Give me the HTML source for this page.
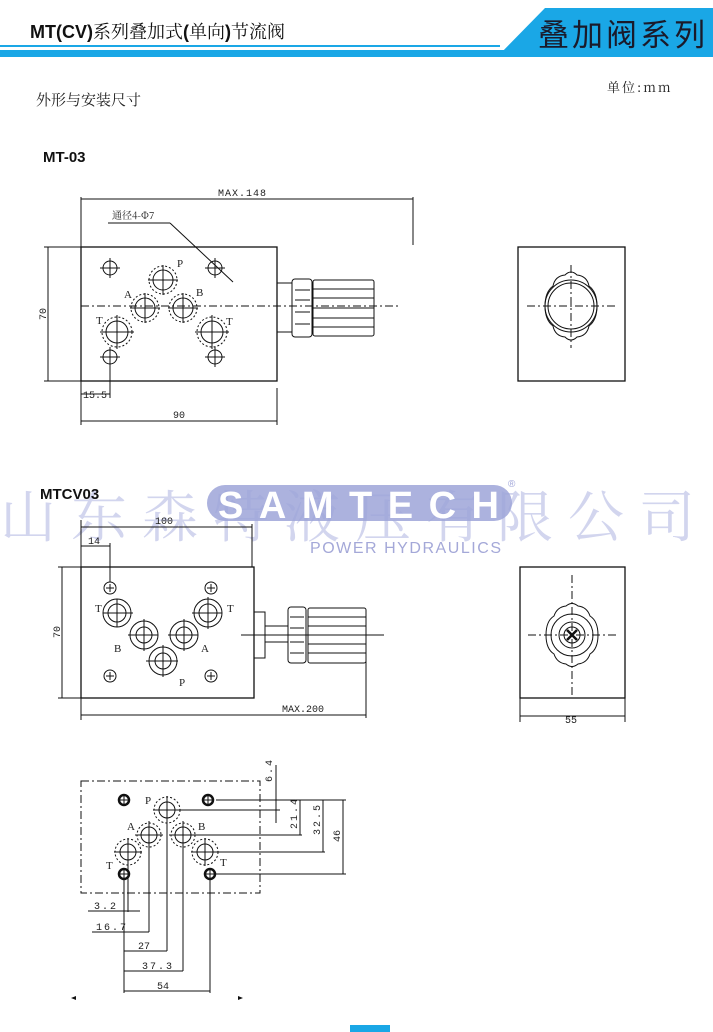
<!DOCTYPE html>
<html><head><meta charset="utf-8">
<style>
html,body{margin:0;padding:0;background:#fff;}
svg{display:block;}
.s{font-family:"Liberation Serif","Noto Serif CJK SC",serif;}
.d{font-family:"Liberation Mono","Noto Sans CJK SC",monospace;font-size:10px;fill:#222;}
</style></head><body>
<svg width="713" height="1032" viewBox="0 0 713 1032" xmlns="http://www.w3.org/2000/svg">
<!-- header -->
<text x="30" y="38" font-family="Liberation Sans,Noto Sans CJK SC,sans-serif" font-size="18" fill="#111"><tspan font-weight="bold">MT(CV)</tspan><tspan font-family="Noto Serif CJK SC,serif">系列叠加式</tspan><tspan font-weight="bold">(</tspan><tspan font-family="Noto Serif CJK SC,serif">单向</tspan><tspan font-weight="bold">)</tspan><tspan font-family="Noto Serif CJK SC,serif">节流阀</tspan></text>
<rect x="0" y="45" width="500" height="2" fill="#1aa7e6"/>
<rect x="0" y="50" width="713" height="7" fill="#1aa7e6"/>
<polygon points="545,8 713,8 713,57 497,57" fill="#1aa7e6"/>
<text x="538" y="46" font-family="Noto Sans CJK SC,sans-serif" font-size="31" fill="#1a1a2a" textLength="167">叠加阀系列</text>
<text x="607" y="92" font-size="13" fill="#222" font-family="Noto Serif CJK SC,serif" letter-spacing="2">单位:mm</text>
<text x="36" y="105" font-family="Noto Serif CJK SC,serif" font-size="15" fill="#222">外形与安装尺寸</text>
<text x="43" y="162" font-family="Liberation Sans,sans-serif" font-weight="bold" font-size="15" fill="#111">MT-03</text>

<!-- watermark -->
<text x="0" y="537" font-family="Noto Serif CJK SC,serif" font-size="56" fill="#d2d5ee" letter-spacing="15">山东森特液压有限公司</text>
<rect x="207" y="485" width="305" height="36" rx="18" fill="#9ea4d8" opacity="0.85"/>
<text x="218" y="518" font-family="Liberation Sans,sans-serif" font-weight="bold" font-size="38" fill="#fff" letter-spacing="4" textLength="285">SAMTECH</text>
<text x="508" y="487" font-family="Liberation Sans,sans-serif" font-size="10" fill="#9ea4d8">®</text>
<text x="310" y="553" font-family="Liberation Sans,sans-serif" font-size="16" fill="#a4a8d8" letter-spacing="1" textLength="192">POWER HYDRAULICS</text>
<text x="40" y="499" font-family="Liberation Sans,sans-serif" font-weight="bold" font-size="15" fill="#111">MTCV03</text>

<g stroke="#111" fill="none" stroke-width="1">
<!-- ===== MT-03 ===== -->
<rect x="81" y="247" width="196" height="134" stroke-width="1.3"/>
<line x1="81" y1="197" x2="81" y2="247"/>
<line x1="81" y1="199" x2="413" y2="199"/>
<line x1="413" y1="197" x2="413" y2="245"/>
<line x1="44" y1="247" x2="81" y2="247"/>
<line x1="44" y1="381" x2="81" y2="381"/>
<line x1="48" y1="247" x2="48" y2="381"/>
<line x1="108" y1="223" x2="170" y2="223"/>
<line x1="170" y1="223" x2="233" y2="282"/>
<line x1="81" y1="306" x2="400" y2="306" stroke-dasharray="8,3,2,3"/>
<g>
<circle cx="110" cy="268" r="7"/><line x1="100" y1="268" x2="120" y2="268"/><line x1="110" y1="258" x2="110" y2="278"/>
<circle cx="215" cy="268" r="7"/><line x1="205" y1="268" x2="225" y2="268"/><line x1="215" y1="258" x2="215" y2="278"/>
<circle cx="110" cy="357" r="7"/><line x1="100" y1="357" x2="120" y2="357"/><line x1="110" y1="347" x2="110" y2="367"/>
<circle cx="215" cy="357" r="7"/><line x1="205" y1="357" x2="225" y2="357"/><line x1="215" y1="347" x2="215" y2="367"/>
</g>
<g>
<circle cx="163" cy="280" r="14" stroke-dasharray="2,2"/><circle cx="163" cy="280" r="10"/><line x1="148" y1="280" x2="178" y2="280"/><line x1="163" y1="265" x2="163" y2="295"/>
<circle cx="145" cy="308" r="14" stroke-dasharray="2,2"/><circle cx="145" cy="308" r="10"/><line x1="130" y1="308" x2="160" y2="308"/><line x1="145" y1="293" x2="145" y2="323"/>
<circle cx="183" cy="308" r="14" stroke-dasharray="2,2"/><circle cx="183" cy="308" r="10"/><line x1="168" y1="308" x2="198" y2="308"/><line x1="183" y1="293" x2="183" y2="323"/>
<circle cx="117" cy="332" r="15" stroke-dasharray="2,2"/><circle cx="117" cy="332" r="11"/><line x1="100" y1="332" x2="134" y2="332"/><line x1="117" y1="315" x2="117" y2="349"/>
<circle cx="212" cy="332" r="15" stroke-dasharray="2,2"/><circle cx="212" cy="332" r="11"/><line x1="195" y1="332" x2="229" y2="332"/><line x1="212" y1="315" x2="212" y2="349"/>
</g>
<rect x="277" y="283" width="15" height="49"/>
<rect x="292" y="279" width="20" height="58" rx="3"/>
<line x1="295" y1="290" x2="310" y2="290"/><line x1="295" y1="300" x2="310" y2="300"/><line x1="295" y1="312" x2="310" y2="312"/><line x1="295" y1="324" x2="310" y2="324"/>
<rect x="313" y="280" width="61" height="56" rx="2"/>
<line x1="313" y1="289" x2="374" y2="289"/><line x1="313" y1="298" x2="374" y2="298"/><line x1="313" y1="308" x2="374" y2="308"/><line x1="313" y1="318" x2="374" y2="318"/><line x1="313" y1="327" x2="374" y2="327"/>
<line x1="110" y1="365" x2="110" y2="398"/>
<line x1="81" y1="381" x2="81" y2="425"/>
<line x1="81" y1="394" x2="110" y2="394"/>
<line x1="277" y1="388" x2="277" y2="425"/>
<line x1="81" y1="421" x2="277" y2="421"/>
<rect x="518" y="247" width="107" height="134" stroke-width="1.3"/>
<circle cx="571" cy="306" r="23"/><circle cx="571" cy="306" r="26"/>
<path d="M545,306 q0,-14 8,-20 q2,-10 12,-11 q6,-6 12,0 q10,1 12,11 q8,6 8,20 q0,14 -8,20 q-2,10 -12,11 q-6,6 -12,0 q-10,-1 -12,-11 q-8,-6 -8,-20z"/>
<line x1="527" y1="306" x2="615" y2="306" stroke-dasharray="8,3,2,3"/>
<line x1="571" y1="265" x2="571" y2="348" stroke-dasharray="8,3,2,3"/>

<!-- ===== MTCV03 ===== -->
<rect x="81" y="567" width="173" height="131" stroke-width="1.3"/>
<line x1="81" y1="520" x2="81" y2="567"/>
<line x1="81" y1="527" x2="252" y2="527"/>
<line x1="252" y1="524" x2="252" y2="567"/>
<line x1="81" y1="546" x2="110" y2="546"/>
<line x1="110" y1="543" x2="110" y2="582"/>
<line x1="58" y1="567" x2="81" y2="567"/>
<line x1="58" y1="698" x2="81" y2="698"/>
<line x1="62" y1="567" x2="62" y2="698"/>
<line x1="81" y1="698" x2="81" y2="720"/>
<line x1="81" y1="715" x2="366" y2="715"/>
<line x1="366" y1="658" x2="366" y2="718"/>
<g>
<circle cx="110" cy="588" r="6"/><line x1="106" y1="588" x2="114" y2="588"/><line x1="110" y1="584" x2="110" y2="592"/>
<circle cx="211" cy="588" r="6"/><line x1="207" y1="588" x2="215" y2="588"/><line x1="211" y1="584" x2="211" y2="592"/>
<circle cx="110" cy="676" r="6"/><line x1="106" y1="676" x2="114" y2="676"/><line x1="110" y1="672" x2="110" y2="680"/>
<circle cx="211" cy="676" r="6"/><line x1="207" y1="676" x2="215" y2="676"/><line x1="211" y1="672" x2="211" y2="680"/>
</g>
<g>
<circle cx="117" cy="613" r="14"/><circle cx="117" cy="613" r="9"/><line x1="103" y1="613" x2="133" y2="613"/><line x1="117" y1="599" x2="117" y2="627"/>
<circle cx="208" cy="613" r="14"/><circle cx="208" cy="613" r="9"/><line x1="192" y1="613" x2="222" y2="613"/><line x1="208" y1="597" x2="208" y2="629"/>
<circle cx="144" cy="635" r="14"/><circle cx="144" cy="635" r="8"/><line x1="128" y1="635" x2="158" y2="635"/><line x1="144" y1="619" x2="144" y2="651"/>
<circle cx="184" cy="635" r="14"/><circle cx="184" cy="635" r="8"/><line x1="168" y1="635" x2="198" y2="635"/><line x1="184" y1="619" x2="184" y2="651"/>
<circle cx="163" cy="661" r="14"/><circle cx="163" cy="661" r="8"/><line x1="146" y1="661" x2="178" y2="661"/><line x1="163" y1="645" x2="163" y2="677"/>
</g>
<rect x="254" y="612" width="11" height="46"/>
<line x1="265" y1="626" x2="288" y2="626"/><line x1="265" y1="642" x2="288" y2="642"/>
<rect x="288" y="607" width="18" height="56" rx="3"/>
<line x1="290" y1="617" x2="304" y2="617"/><line x1="290" y1="628" x2="304" y2="628"/><line x1="290" y1="642" x2="304" y2="642"/><line x1="290" y1="653" x2="304" y2="653"/>
<rect x="308" y="608" width="58" height="55" rx="2"/>
<line x1="308" y1="617" x2="366" y2="617"/><line x1="308" y1="626" x2="366" y2="626"/><line x1="308" y1="644" x2="366" y2="644"/><line x1="308" y1="653" x2="366" y2="653"/>
<line x1="241" y1="635" x2="384" y2="635"/>
<rect x="520" y="567" width="105" height="131" stroke-width="1.3"/>
<path d="M546,635 q0,-14 8,-19 q3,-9 12,-10 q6,-5 12,0 q9,1 12,10 q8,5 8,19 q0,14 -8,19 q-3,9 -12,10 q-6,5 -12,0 q-9,-1 -12,-10 q-8,-5 -8,-19z"/>
<circle cx="572" cy="635" r="21"/><circle cx="572" cy="635" r="13"/><circle cx="572" cy="635" r="8"/>
<path d="M567,630 l10,10 M577,630 l-10,10" stroke-width="2.5"/>
<line x1="528" y1="635" x2="618" y2="635" stroke-dasharray="8,3,2,3"/>
<line x1="572" y1="575" x2="572" y2="695" stroke-dasharray="8,3,2,3"/>
<line x1="520" y1="698" x2="520" y2="722"/><line x1="625" y1="698" x2="625" y2="722"/>
<line x1="520" y1="716" x2="625" y2="716"/>

<!-- ===== bottom pattern ===== -->
<rect x="81" y="781" width="179" height="112" stroke-dasharray="8,3,2,3"/>
<g stroke-width="2.5"><circle cx="124" cy="800" r="5"/><circle cx="208" cy="800" r="5"/><circle cx="124" cy="874" r="5"/><circle cx="210" cy="874" r="5"/></g>
<g>
<line x1="120" y1="800" x2="128" y2="800"/><line x1="124" y1="796" x2="124" y2="804"/>
<line x1="204" y1="800" x2="212" y2="800"/><line x1="208" y1="796" x2="208" y2="804"/>
<line x1="120" y1="874" x2="128" y2="874"/><line x1="124" y1="870" x2="124" y2="878"/>
<line x1="206" y1="874" x2="214" y2="874"/><line x1="210" y1="870" x2="210" y2="878"/>
<circle cx="167" cy="810" r="13" stroke-dasharray="2,2"/><circle cx="167" cy="810" r="8"/><line x1="153" y1="810" x2="181" y2="810"/><line x1="167" y1="796" x2="167" y2="951"/>
<circle cx="149" cy="835" r="12" stroke-dasharray="2,2"/><circle cx="149" cy="835" r="8"/><line x1="135" y1="835" x2="163" y2="835"/><line x1="149" y1="821" x2="149" y2="932"/>
<circle cx="183" cy="835" r="12" stroke-dasharray="2,2"/><circle cx="183" cy="835" r="8"/><line x1="169" y1="835" x2="197" y2="835"/><line x1="183" y1="821" x2="183" y2="971"/>
<circle cx="128" cy="852" r="13" stroke-dasharray="2,2"/><circle cx="128" cy="852" r="8"/><line x1="114" y1="852" x2="142" y2="852"/><line x1="128" y1="838" x2="128" y2="912"/>
<circle cx="205" cy="852" r="13" stroke-dasharray="2,2"/><circle cx="205" cy="852" r="8"/><line x1="191" y1="852" x2="219" y2="852"/><line x1="205" y1="838" x2="205" y2="866"/>
<line x1="124" y1="880" x2="124" y2="993"/>
<line x1="210" y1="880" x2="210" y2="993"/>
</g>
<line x1="216" y1="800" x2="346" y2="800"/>
<line x1="181" y1="810" x2="280" y2="810"/>
<line x1="197" y1="835" x2="302" y2="835"/>
<line x1="219" y1="852" x2="325" y2="852"/>
<line x1="216" y1="874" x2="346" y2="874"/>
<line x1="276" y1="765" x2="276" y2="823"/>
<line x1="300" y1="800" x2="300" y2="835"/>
<line x1="323" y1="800" x2="323" y2="852"/>
<line x1="343" y1="800" x2="343" y2="874"/>
<line x1="88" y1="911" x2="140" y2="911"/>
<line x1="92" y1="932" x2="149" y2="932"/>
<line x1="124" y1="951" x2="167" y2="951"/>
<line x1="124" y1="971" x2="183" y2="971"/>
<line x1="124" y1="991" x2="210" y2="991"/>
</g>
<g fill="#111"><polygon points="71,998 76,996 76,1000"/><polygon points="243,998 238,996 238,1000"/></g>
<rect x="350" y="1025" width="40" height="7" fill="#1aa7e6"/>

<g class="s" font-size="11" fill="#222">
<text x="177" y="267">P</text><text x="124" y="298">A</text><text x="196" y="296">B</text><text x="96" y="324">T</text><text x="226" y="325">T</text>
<text x="95" y="612">T</text><text x="227" y="612">T</text><text x="114" y="652">B</text><text x="201" y="652">A</text><text x="179" y="686">P</text>
<text x="145" y="804">P</text><text x="127" y="830">A</text><text x="198" y="830">B</text><text x="106" y="869">T</text><text x="220" y="866">T</text>
</g>
<g class="d">
<text x="218" y="196" letter-spacing="1">MAX.148</text>
<text x="112" y="219" font-family="Noto Serif CJK SC,serif" font-size="10">通径4-Φ7</text>
<text x="0" y="0" transform="translate(46,320) rotate(-90)">70</text>
<text x="83" y="398">15.5</text>
<text x="173" y="418">90</text>
<text x="155" y="524">100</text>
<text x="88" y="544">14</text>
<text x="0" y="0" transform="translate(60,638) rotate(-90)">70</text>
<text x="282" y="712">MAX.200</text>
<text x="565" y="723">55</text>
<text x="0" y="0" transform="translate(272,782) rotate(-90)" letter-spacing="2">6.4</text>
<text x="0" y="0" transform="translate(297,829) rotate(-90)" letter-spacing="2">21.4</text>
<text x="0" y="0" transform="translate(320,835) rotate(-90)" letter-spacing="2">32.5</text>
<text x="0" y="0" transform="translate(340,842) rotate(-90)">46</text>
<text x="94" y="909" letter-spacing="2">3.2</text>
<text x="96" y="930" letter-spacing="2">16.7</text>
<text x="138" y="949">27</text>
<text x="142" y="969" letter-spacing="2">37.3</text>
<text x="157" y="989">54</text>
</g>
</svg>
</body></html>
